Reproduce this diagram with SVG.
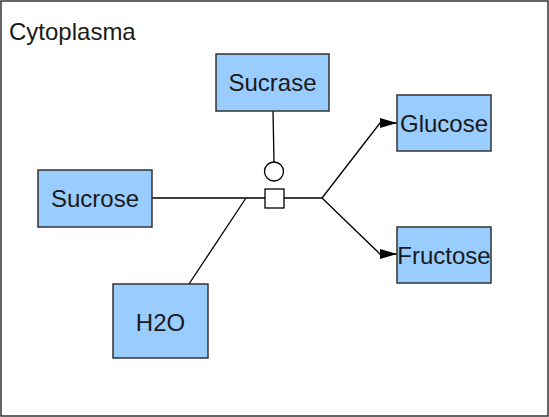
<svg xmlns="http://www.w3.org/2000/svg" width="549" height="417" viewBox="0 0 549 417">
<style>
.node rect{fill:#99ccff;stroke:#333333;stroke-width:1.5}
.node text{font-family:"Liberation Sans",Arial,sans-serif;font-size:24px;fill:#1a1a1a;text-anchor:middle;dominant-baseline:central}
.c{stroke:#000;stroke-width:1.3;fill:none}
</style>
<defs>
<marker id="arr" markerWidth="17" markerHeight="10" refX="17" refY="5" orient="auto" markerUnits="userSpaceOnUse">
<path d="M0,0 L17,5 L0,10 Z" fill="#000"/>
</marker>
</defs>
<rect id="cytoplasma" x="1" y="1" width="547" height="415" fill="#fff" stroke="#333" stroke-width="1.5"/>
<text x="9" y="40" font-family="Liberation Sans,Arial,sans-serif" font-size="24" fill="#1a1a1a">Cytoplasma</text>
<g id="connectors">
<line class="c" x1="152" y1="198" x2="265" y2="198"/>
<line class="c" x1="189" y1="284" x2="246" y2="198"/>
<line class="c" x1="284" y1="198" x2="322" y2="198"/>
<polyline class="c" points="322,198 380,123 397,123" marker-end="url(#arr)"/>
<polyline class="c" points="322,198 380,254 397,254" marker-end="url(#arr)"/>
<line class="c" x1="273" y1="111" x2="274" y2="162"/>
<circle cx="274" cy="171.5" r="9.5" fill="#fff" stroke="#000" stroke-width="1.3"/>
<rect x="265" y="189" width="19" height="19" fill="#fff" stroke="#000" stroke-width="1.3"/>
</g>
<g id="sucrase" class="node"><rect x="216" y="54" width="113" height="57"/><text x="272.5" y="82.5">Sucrase</text></g>
<g id="glucose" class="node"><rect x="397" y="95" width="94" height="56"/><text x="444" y="123">Glucose</text></g>
<g id="fructose" class="node"><rect x="397" y="227" width="94" height="56"/><text x="444" y="255">Fructose</text></g>
<g id="sucrose" class="node"><rect x="38" y="170" width="114" height="57"/><text x="95" y="198.5">Sucrose</text></g>
<g id="h2o" class="node"><rect x="113" y="284" width="95" height="74"/><text x="160.5" y="322">H2O</text></g>
</svg>
